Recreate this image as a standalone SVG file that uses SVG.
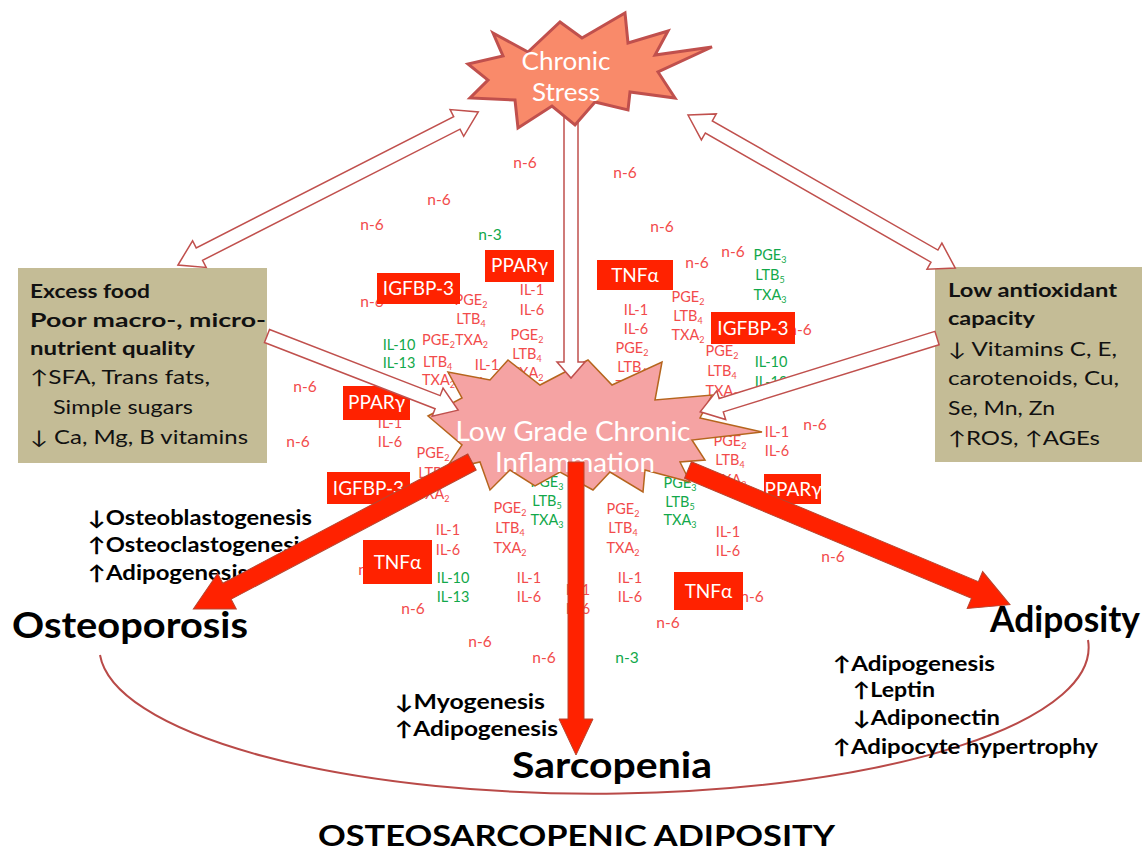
<svg xmlns="http://www.w3.org/2000/svg" width="1142" height="850" viewBox="0 0 1142 850">
<style>
text{font-family:Lato,"Open Sans","Liberation Sans","DejaVu Sans",sans-serif}
.r{fill:#F24B4B;font-size:14.5px;text-anchor:middle}
.g{fill:#12A84A;font-size:14.5px;text-anchor:middle}
.n{font-size:15.5px}
.l{text-anchor:start}
.sub{font-size:9px}
.lb rect{fill:#FF2200}
.lb text{fill:#fff;font-size:19px;text-anchor:middle}
.hol{fill:#fff;stroke:#C0504D;stroke-width:1.5;stroke-linejoin:miter}
.thick{fill:#FF2200;stroke:#B8442E;stroke-width:1}
.big{font-weight:bold;font-size:36px;fill:#000}
.eff{font-weight:bold;font-size:20px;fill:#000}
.bx{font-size:19px;fill:#111}
.bxb{font-weight:bold}
.burst-t{fill:#fff;text-anchor:middle}
</style>

<g id="ellipse-arc">
<path d="M100,655 A494,146 0 0 0 1088,640" fill="none" stroke="#B94A48" stroke-width="2"/>
</g>

<g id="mediators">
<text class="r n" x="525" y="168">n-6</text>
<text class="r n" x="625" y="178">n-6</text>
<text class="r n" x="372" y="230">n-6</text>
<text class="r n" x="439" y="205">n-6</text>
<text class="r n" x="662" y="232">n-6</text>
<text class="r n" x="697" y="268">n-6</text>
<text class="r n" x="733" y="257">n-6</text>
<text class="r n" x="372" y="307">n-6</text>
<text class="r n" x="800" y="335">n-6</text>
<text class="r n" x="305" y="392">n-6</text>
<text class="r n" x="298" y="447">n-6</text>
<text class="r n" x="815" y="430">n-6</text>
<text class="r n" x="833" y="562">n-6</text>
<text class="r n" x="370" y="575">n-6</text>
<text class="r n" x="413" y="614">n-6</text>
<text class="r n" x="480" y="647">n-6</text>
<text class="r n" x="544" y="663">n-6</text>
<text class="r n" x="752" y="602">n-6</text>
<text class="r n" x="668" y="628">n-6</text>
<text class="g n" x="490" y="240">n-3</text>
<text class="g n" x="627" y="663">n-3</text>

<text class="r" x="532" y="295">IL-1</text>
<text class="r" x="532" y="315">IL-6</text>
<text class="r" x="527" y="340">PGE<tspan class="sub" dy="3">2</tspan></text>
<text class="r" x="527" y="359">LTB<tspan class="sub" dy="3">4</tspan></text>
<text class="r" x="527" y="378">TXA<tspan class="sub" dy="3">2</tspan></text>

<text class="r" x="636" y="315">IL-1</text>
<text class="r" x="636" y="334">IL-6</text>
<text class="r" x="632" y="353">PGE<tspan class="sub" dy="3">2</tspan></text>
<text class="r" x="632" y="372">LTB<tspan class="sub" dy="3">4</tspan></text>
<text class="r" x="632" y="391">TXA<tspan class="sub" dy="3">2</tspan></text>

<text class="r" x="688" y="302">PGE<tspan class="sub" dy="3">2</tspan></text>
<text class="r" x="688" y="321">LTB<tspan class="sub" dy="3">4</tspan></text>
<text class="r" x="688" y="340">TXA<tspan class="sub" dy="3">2</tspan></text>

<text class="r" x="722" y="356">PGE<tspan class="sub" dy="3">2</tspan></text>
<text class="r" x="722" y="376">LTB<tspan class="sub" dy="3">4</tspan></text>
<text class="r" x="722" y="396">TXA<tspan class="sub" dy="3">2</tspan></text>

<text class="r" x="471" y="305">PGE<tspan class="sub" dy="3">2</tspan></text>
<text class="r" x="471" y="324">LTB<tspan class="sub" dy="3">4</tspan></text>

<text class="r l" x="422" y="345">PGE<tspan class="sub" dy="3">2</tspan><tspan dy="-3">TXA</tspan><tspan class="sub" dy="3">2</tspan></text>
<text class="r l" x="423" y="367">LTB<tspan class="sub" dy="3">4</tspan></text>
<text class="r l" x="422" y="385">TXA<tspan class="sub" dy="3">2</tspan></text>

<text class="r" x="487" y="370">IL-1</text>
<text class="r" x="487" y="388">IL-6</text>
<text class="r" x="390" y="428">IL-1</text>
<text class="r" x="390" y="447">IL-6</text>
<text class="r" x="433" y="458">PGE<tspan class="sub" dy="3">2</tspan></text>
<text class="r" x="433" y="478">LTB<tspan class="sub" dy="3">4</tspan></text>
<text class="r" x="433" y="499">TXA<tspan class="sub" dy="3">2</tspan></text>

<text class="r" x="777" y="437">IL-1</text>
<text class="r" x="777" y="456">IL-6</text>
<text class="r" x="730" y="446">PGE<tspan class="sub" dy="3">2</tspan></text>
<text class="r" x="730" y="465">LTB<tspan class="sub" dy="3">4</tspan></text>
<text class="r" x="730" y="485">TXA<tspan class="sub" dy="3">2</tspan></text>
<text class="r" x="728" y="537">IL-1</text>
<text class="r" x="728" y="556">IL-6</text>

<text class="r" x="510" y="513">PGE<tspan class="sub" dy="3">2</tspan></text>
<text class="r" x="510" y="533">LTB<tspan class="sub" dy="3">4</tspan></text>
<text class="r" x="510" y="553">TXA<tspan class="sub" dy="3">2</tspan></text>
<text class="r" x="448" y="535">IL-1</text>
<text class="r" x="448" y="555">IL-6</text>
<text class="r" x="529" y="583">IL-1</text>
<text class="r" x="529" y="602">IL-6</text>
<text class="r" x="578" y="595">IL-1</text>
<text class="r" x="578" y="614">IL-6</text>
<text class="r" x="623" y="514">PGE<tspan class="sub" dy="3">2</tspan></text>
<text class="r" x="623" y="533">LTB<tspan class="sub" dy="3">4</tspan></text>
<text class="r" x="623" y="553">TXA<tspan class="sub" dy="3">2</tspan></text>
<text class="r" x="630" y="583">IL-1</text>
<text class="r" x="630" y="602">IL-6</text>

<text class="g" x="770" y="260">PGE<tspan class="sub" dy="3">3</tspan></text>
<text class="g" x="770" y="280">LTB<tspan class="sub" dy="3">5</tspan></text>
<text class="g" x="770" y="300">TXA<tspan class="sub" dy="3">3</tspan></text>
<text class="g" x="771" y="367">IL-10</text>
<text class="g" x="771" y="387">IL-13</text>
<text class="g" x="399" y="350">IL-10</text>
<text class="g" x="399" y="368">IL-13</text>
<text class="g" x="680" y="488">PGE<tspan class="sub" dy="3">3</tspan></text>
<text class="g" x="680" y="507">LTB<tspan class="sub" dy="3">5</tspan></text>
<text class="g" x="680" y="525">TXA<tspan class="sub" dy="3">3</tspan></text>
<text class="g" x="547" y="487">PGE<tspan class="sub" dy="3">3</tspan></text>
<text class="g" x="547" y="506">LTB<tspan class="sub" dy="3">5</tspan></text>
<text class="g" x="547" y="525">TXA<tspan class="sub" dy="3">3</tspan></text>
<text class="g" x="453" y="583">IL-10</text>
<text class="g" x="453" y="602">IL-13</text>
</g>

<g id="igfbp3-a" class="lb"><rect x="377" y="273" width="83" height="31"/><text x="418.5" y="295">IGFBP-3</text></g>
<g id="ppar-a" class="lb"><rect x="485" y="250" width="69" height="32"/><text x="519.5" y="272">PPARγ</text></g>
<g id="tnf-a" class="lb"><rect x="597" y="260" width="76" height="30"/><text x="635" y="282">TNFα</text></g>
<g id="igfbp3-b" class="lb"><rect x="711" y="312" width="84" height="32"/><text x="753" y="335">IGFBP-3</text></g>
<g id="ppar-b" class="lb"><rect x="343" y="386" width="67" height="34"/><text x="376.5" y="409">PPARγ</text></g>
<g id="igfbp3-c" class="lb"><rect x="327" y="472" width="83" height="32"/><text x="368.5" y="495">IGFBP-3</text></g>
<g id="ppar-c" class="lb"><rect x="764" y="474" width="57" height="30"/><text x="793" y="496">PPARγ</text></g>
<g id="tnf-b" class="lb"><rect x="363" y="540" width="69" height="44"/><text x="397.5" y="569">TNFα</text></g>
<g id="tnf-c" class="lb"><rect x="674" y="572" width="69" height="38"/><text x="708.5" y="598">TNFα</text></g>

<g id="excess-food">
<rect x="18" y="268" width="249" height="195" fill="#C4BC96"/>
<text class="bx bxb" x="30" y="298" textLength="120" lengthAdjust="spacingAndGlyphs">Excess food</text>
<text class="bx bxb" x="30" y="327" textLength="236" lengthAdjust="spacingAndGlyphs">Poor macro-, micro-</text>
<text class="bx bxb" x="30" y="355" textLength="165" lengthAdjust="spacingAndGlyphs">nutrient quality</text>
<text class="bx" x="30" y="384" textLength="180" lengthAdjust="spacingAndGlyphs">↑SFA, Trans fats,</text>
<text class="bx" x="53" y="414" textLength="140" lengthAdjust="spacingAndGlyphs">Simple sugars</text>
<text class="bx" x="30" y="444" textLength="218" lengthAdjust="spacingAndGlyphs">↓ Ca, Mg, B vitamins</text>
</g>

<g id="low-antioxidant">
<rect x="935" y="267" width="207" height="195" fill="#C4BC96"/>
<text class="bx bxb" x="948" y="297" textLength="169" lengthAdjust="spacingAndGlyphs">Low antioxidant</text>
<text class="bx bxb" x="948" y="325" textLength="87" lengthAdjust="spacingAndGlyphs">capacity</text>
<text class="bx" x="948" y="356" textLength="169" lengthAdjust="spacingAndGlyphs">↓ Vitamins C, E,</text>
<text class="bx" x="948" y="385" textLength="171" lengthAdjust="spacingAndGlyphs">carotenoids, Cu,</text>
<text class="bx" x="948" y="415" textLength="107" lengthAdjust="spacingAndGlyphs">Se, Mn, Zn</text>
<text class="bx" x="948" y="445" textLength="152" lengthAdjust="spacingAndGlyphs">↑ROS, ↑AGEs</text>
</g>

<g id="inflammation">
<polygon points="508,360 540,385 588,360 612,385 662,362 655,400 712,395 700,418 762,432 692,440 705,460 680,462 690,482 645,470 643,492 610,472 593,490 560,472 535,486 510,470 490,490 480,462 445,470 462,445 428,416 462,398 448,372 490,380" fill="#F5A3A3" stroke="#B5651D" stroke-width="1.5" stroke-linejoin="miter"/>
<text class="burst-t" x="573" y="441" font-size="27" textLength="235" lengthAdjust="spacingAndGlyphs">Low Grade Chronic</text>
<text class="burst-t" x="575" y="472" font-size="27" textLength="160" lengthAdjust="spacingAndGlyphs">Inflammation</text>
</g>

<g id="connectors">
<polygon class="hol" transform="translate(178,265) rotate(-27)" points="0,0 24,-15 24,-7 313,-7 313,-15 337,0 313,15 313,7 24,7 24,15"/>
<polygon class="hol" transform="translate(688,115) rotate(29.8)" points="0,0 24,-15 24,-7 284,-7 284,-15 308,0 284,15 284,7 24,7 24,15"/>
<polygon class="hol" transform="translate(267,336) rotate(21.2)" points="0,-7 183,-7 183,-15 205,0 183,15 183,7 0,7"/>
<polygon class="hol" transform="translate(937,338) rotate(162.7)" points="0,-7 226,-7 226,-15 248,0 226,15 226,7 0,7"/>
<polygon class="hol" transform="translate(571,110) rotate(90)" points="0,-7 252,-7 252,-14 268,0 252,14 252,7 0,7"/>
</g>

<g id="chronic-stress">
<polygon points="493,33 528,52 560,22 582,38 625,13 628,43 668,31 655,55 712,47 658,72 675,98 630,92 628,110 595,102 575,125 552,106 518,128 515,100 470,98 488,80 468,64 503,56" fill="#F98A6A" stroke="#C0504D" stroke-width="3" stroke-linejoin="miter"/>
<text class="burst-t" x="566" y="70" font-size="25" textLength="89" lengthAdjust="spacingAndGlyphs">Chronic</text>
<text class="burst-t" x="566" y="101" font-size="25" textLength="68" lengthAdjust="spacingAndGlyphs">Stress</text>
</g>

<g id="effects">
<text class="eff" x="88" y="525" textLength="224" lengthAdjust="spacingAndGlyphs">↓Osteoblastogenesis</text>
<text class="eff" x="88" y="552" textLength="222" lengthAdjust="spacingAndGlyphs">↑Osteoclastogenesis</text>
<text class="eff" x="88" y="580" textLength="160" lengthAdjust="spacingAndGlyphs">↑Adipogenesis</text>
<text class="eff" x="395" y="709" textLength="150" lengthAdjust="spacingAndGlyphs">↓Myogenesis</text>
<text class="eff" x="395" y="736" textLength="163" lengthAdjust="spacingAndGlyphs">↑Adipogenesis</text>
<text class="eff" x="833" y="671" textLength="162" lengthAdjust="spacingAndGlyphs">↑Adipogenesis</text>
<text class="eff" x="853" y="697" textLength="82" lengthAdjust="spacingAndGlyphs">↑Leptin</text>
<text class="eff" x="853" y="725" textLength="147" lengthAdjust="spacingAndGlyphs">↓Adiponectin</text>
<text class="eff" x="833" y="754" textLength="265" lengthAdjust="spacingAndGlyphs">↑Adipocyte hypertrophy</text>
</g>

<g id="thick-arrows">
<polygon class="thick" transform="translate(472,462) rotate(152.2)" points="0,-9 277,-9 277,-20 315,0 277,20 277,9 0,9"/>
<polygon class="thick" transform="translate(576,462) rotate(90)" points="0,-8 257,-8 257,-17 293,0 257,17 257,8 0,8"/>
<polygon class="thick" transform="translate(688,470) rotate(22.7)" points="0,-9 311,-9 311,-20 349,0 311,20 311,9 0,9"/>
</g>

<g id="osteoporosis"><text class="big" x="12" y="638" textLength="236" lengthAdjust="spacingAndGlyphs">Osteoporosis</text></g>
<g id="sarcopenia"><text class="big" x="512" y="778" textLength="200" lengthAdjust="spacingAndGlyphs">Sarcopenia</text></g>
<g id="adiposity"><text class="big" x="990" y="632" textLength="150" lengthAdjust="spacingAndGlyphs">Adiposity</text></g>
<g id="osa"><text x="318" y="846" font-weight="bold" font-size="29" fill="#000" textLength="517" lengthAdjust="spacingAndGlyphs">OSTEOSARCOPENIC ADIPOSITY</text></g>
</svg>
